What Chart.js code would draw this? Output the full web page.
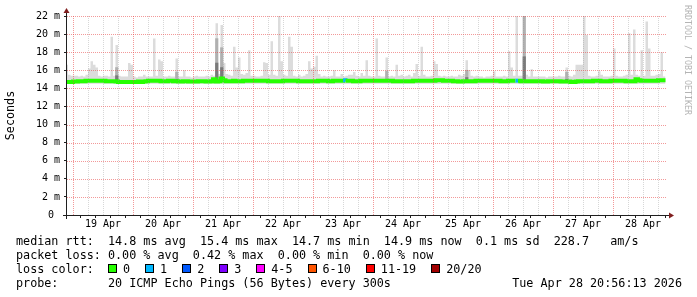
<!DOCTYPE html>
<html>
<head>
<meta charset="utf-8">
<script src="https://cdn.jsdelivr.net/npm/chart.js@4/dist/chart.umd.min.js"></script>
<style>
  html, body { margin: 0; padding: 0; background: #fff; }
  #wrap { position: relative; width: 697px; height: 297px; overflow: hidden; }
  #graph { position: absolute; left: 0; top: 0; }
  .leg { position: absolute; left: 16px; font-family: "DejaVu Sans Mono", monospace; font-size: 11.75px;
         line-height: 14px; white-space: pre; color: #000; }
  .box { display: inline-block; width: 9px; height: 9px; box-sizing: border-box; border: 1px solid #000; margin-right: 6px; }
  .lbl { margin-right: 15px; }
</style>
</head>
<body>
<div id="wrap">
  <canvas id="graph" width="697" height="297"></canvas>
  <div class="leg" style="top:234px">median rtt:  14.8 ms avg  15.4 ms max  14.7 ms min  14.9 ms now  0.1 ms sd  228.7   am/s</div>
  <div class="leg" style="top:248px">packet loss: 0.00 % avg  0.42 % max  0.00 % min  0.00 % now</div>
  <div class="leg" id="losscolor" style="top:262px">loss color:  </div>
  <div class="leg" style="top:276px">probe:       20 ICMP Echo Pings (56 Bytes) every 300s</div>
  <div class="leg" style="top:276px; left:auto; right:15px">Tue Apr 28 20:56:13 2026</div>
</div>
<script>
// x = hours since 19 Apr 00:00, one smoke step per hour
const firstHour = -3
const viewStart = -2.4
const viewEnd = 237.6

const dayLabels = ['19 Apr', '20 Apr', '21 Apr', '22 Apr', '23 Apr', '24 Apr', '25 Apr', '26 Apr', '27 Apr', '28 Apr']

// highest ping per hour (ms)
const smokeMax = [
  16.6, 15.5, 15.4,
  15.4, 15.4, 15.3, 15.4, 15.3, 15.5, 16.2, 17.0, 16.6, 16.3, 15.4, 15.3, 15.4, 15.4, 15.3, 19.7, 15.4, 18.8, 15.4, 15.3, 15.3, 15.3, 16.8, 16.6,
  15.3, 15.2, 15.3, 15.3, 15.5, 15.3, 15.3, 15.3, 19.5, 15.4, 17.2, 17.0, 15.3, 15.3, 15.4, 15.3, 15.3, 17.3, 15.3, 15.3, 16.0, 15.3, 15.3, 15.2,
  15.3, 15.4, 15.3, 15.3, 15.3, 15.4, 15.3, 15.5, 15.4, 21.2, 15.6, 21.0, 16.8, 15.6, 15.5, 15.4, 18.6, 16.3, 17.4, 15.6, 15.5, 15.7, 18.2, 15.4,
  15.4, 15.3, 15.3, 15.4, 16.9, 16.8, 15.5, 19.2, 15.5, 15.4, 22.1, 17.0, 15.5, 15.4, 19.7, 18.6, 15.4, 15.3, 15.5, 15.3, 15.4, 15.6, 17.0, 16.2,
  16.4, 17.6, 15.6, 15.3, 15.4, 15.3, 15.3, 15.4, 16.0, 15.3, 15.3, 15.6, 15.3, 15.4, 15.5, 15.5, 15.8, 15.4, 15.3, 15.7, 15.4, 17.1, 15.4, 15.3,
  15.3, 19.5, 15.4, 15.3, 15.3, 17.4, 15.3, 15.4, 15.3, 16.6, 15.4, 15.5, 15.3, 15.4, 15.5, 15.3, 15.7, 16.7, 15.4, 18.6, 15.5, 15.3, 15.3, 15.4,
  17.0, 16.7, 15.4, 15.3, 15.4, 15.3, 15.3, 15.4, 15.3, 15.3, 15.5, 15.4, 15.6, 17.1, 16.0, 15.4, 15.3, 15.4, 15.3, 15.3, 15.2, 15.3, 15.3, 15.4,
  15.9, 15.3, 15.3, 15.3, 15.4, 15.3, 18.1, 16.3, 15.4, 22.1, 15.4, 15.4, 22.1, 15.5, 15.3, 16.1, 15.3, 15.3, 15.3, 15.3, 15.3, 15.2, 15.3, 15.3,
  15.3, 15.3, 15.4, 15.3, 15.3, 16.3, 15.4, 15.3, 15.5, 16.6, 16.6, 16.6, 22.0, 19.9, 15.4, 15.3, 15.3, 15.4, 15.9, 15.5, 15.3, 15.3, 15.3, 15.4,
  18.4, 15.4, 15.3, 15.3, 15.4, 15.5, 20.1, 15.5, 20.5, 15.5, 15.4, 18.2, 15.4, 21.4, 18.4, 15.4, 15.4, 15.5, 15.6, 18.0, 15.3
]

// lowest ping per hour (ms)
const smokeMin = [
  14.5, 14.5, 14.5,
  14.5, 14.5, 14.5, 14.5, 14.5, 14.5, 14.5, 14.5, 14.5, 14.5, 14.5, 14.5, 14.5, 14.5, 14.5, 14.5, 14.5, 14.5, 14.5, 14.5, 14.5, 14.5, 14.5, 14.5,
  14.5, 14.5, 14.5, 14.5, 14.5, 14.5, 14.5, 14.5, 14.5, 14.5, 14.5, 14.5, 14.5, 14.5, 14.5, 14.5, 14.5, 14.5, 14.5, 14.5, 14.5, 14.5, 14.5, 14.5,
  14.5, 14.5, 14.5, 14.5, 14.5, 14.5, 14.5, 14.5, 14.5, 14.5, 14.5, 14.5, 14.5, 14.5, 14.5, 14.5, 14.5, 14.5, 14.5, 14.5, 14.5, 14.5, 14.5, 14.5,
  14.5, 14.5, 14.5, 14.5, 14.5, 14.5, 14.5, 14.5, 14.5, 14.5, 14.5, 14.5, 14.5, 14.5, 14.5, 14.5, 14.5, 14.5, 14.5, 14.5, 14.5, 14.5, 14.5, 14.5,
  14.5, 14.5, 14.5, 14.5, 14.5, 14.5, 14.5, 14.5, 14.5, 14.5, 14.5, 14.5, 14.5, 14.5, 14.5, 14.5, 14.5, 14.5, 14.5, 14.5, 14.5, 14.5, 14.5, 14.5,
  14.5, 14.5, 14.5, 14.5, 14.5, 14.5, 14.5, 14.5, 14.5, 14.5, 14.5, 14.5, 14.5, 14.5, 14.5, 14.5, 14.5, 14.5, 14.5, 14.5, 14.5, 14.5, 14.5, 14.5,
  14.5, 14.5, 14.5, 14.5, 14.5, 14.5, 14.5, 14.5, 14.5, 14.5, 14.5, 14.5, 14.5, 14.5, 14.5, 14.5, 14.5, 14.5, 14.5, 14.5, 14.5, 14.5, 14.5, 14.5,
  14.5, 14.5, 14.5, 14.5, 14.5, 14.5, 14.5, 14.5, 14.5, 14.5, 14.5, 14.5, 14.5, 14.5, 14.5, 14.5, 14.5, 14.5, 14.5, 14.5, 14.5, 14.5, 14.5, 14.5,
  14.5, 14.5, 14.5, 14.5, 14.5, 14.5, 14.5, 14.5, 14.5, 14.5, 14.5, 14.5, 14.5, 14.5, 14.5, 14.5, 14.5, 14.5, 14.5, 14.5, 14.5, 14.5, 14.5, 14.5,
  14.5, 14.5, 14.5, 14.5, 14.5, 14.5, 14.5, 14.5, 14.5, 14.5, 14.5, 14.5, 14.5, 14.5, 14.5, 14.5, 14.5, 14.5, 14.5, 14.5, 14.5
]

// median rtt per hour (ms)
const medianRtt = [
  14.7, 14.7, 14.7,
  14.75, 14.75, 14.8, 14.8, 14.8, 14.85, 14.85, 14.85, 14.85, 14.85, 14.85, 14.85, 14.85, 14.8, 14.8, 14.8, 14.8, 14.75, 14.7, 14.7, 14.7, 14.7, 14.7, 14.7,
  14.7, 14.7, 14.75, 14.7, 14.75, 14.8, 14.85, 14.85, 14.85, 14.85, 14.85, 14.8, 14.8, 14.8, 14.85, 14.85, 14.8, 14.8, 14.75, 14.75, 14.8, 14.8, 14.75, 14.75,
  14.75, 14.75, 14.8, 14.8, 14.8, 14.75, 14.75, 14.8, 15.0, 14.75, 14.8, 15.1, 14.9, 14.8, 14.8, 14.8, 14.85, 14.8, 14.8, 14.8, 14.85, 14.85, 14.85, 14.85,
  14.85, 14.85, 14.85, 14.85, 14.85, 14.85, 14.8, 14.8, 14.8, 14.8, 14.8, 14.8, 14.85, 14.85, 14.85, 14.85, 14.85, 14.85, 14.8, 14.8, 14.8, 14.8, 14.8, 14.8,
  14.8, 14.8, 14.85, 14.85, 14.85, 14.85, 14.8, 14.8, 14.85, 14.85, 14.85, 14.85, 14.9, 14.85, 14.85, 14.85, 14.8, 14.8, 14.8, 14.85, 14.85, 14.85, 14.85, 14.85,
  14.85, 14.85, 14.85, 14.85, 14.85, 14.85, 14.85, 14.85, 14.8, 14.8, 14.8, 14.8, 14.8, 14.8, 14.8, 14.8, 14.85, 14.85, 14.85, 14.85, 14.85, 14.85, 14.85, 14.85,
  14.85, 14.9, 14.9, 14.9, 14.85, 14.85, 14.85, 14.85, 14.8, 14.8, 14.75, 14.75, 14.8, 14.8, 14.8, 14.8, 14.8, 14.85, 14.85, 14.85, 14.85, 14.85, 14.85, 14.85,
  14.85, 14.85, 14.85, 14.8, 14.8, 14.8, 14.85, 14.85, 14.85, 14.85, 14.85, 14.8, 14.8, 14.8, 14.8, 14.8, 14.8, 14.8, 14.8, 14.8, 14.75, 14.75, 14.8, 14.8,
  14.8, 14.8, 14.8, 14.75, 14.75, 14.75, 14.75, 14.7, 14.7, 14.75, 14.8, 14.8, 14.8, 14.8, 14.8, 14.8, 14.85, 14.85, 14.85, 14.8, 14.8, 14.8, 14.8, 14.85,
  14.85, 14.85, 14.85, 14.85, 14.85, 14.8, 14.8, 14.8, 14.8, 15.0, 14.9, 14.85, 14.85, 14.85, 14.85, 14.85, 14.85, 14.85, 14.9, 14.9, 14.9
]

// hours where the darker inner smoke stands out (upper ends, ms)
const coreHours = [17, 41, 57, 59, 125, 157, 180, 197]
const coreMid   = [16.3, 15.8, 19.5, 18.5, 15.9, 16.0, 22.1, 15.8]
const coreInner = [15.4, 15.0, 16.8, 16.3, 15.0, 15.2, 17.5, 15.0]

// packet loss
const lossLabels = ['0', '1', '2', '3', '4-5', '6-10', '11-19', '20/20']
const lossColors = ['#26ff00', '#00b8ff', '#0059ff', '#7e00ff', '#ff00ff', '#ff5500', '#ff0000', '#a10000']
const lossHours = [108, 177]
const lossClass = [1, 1]

const monoFont = '"DejaVu Sans Mono", monospace'
const majorGrid = 'rgba(232, 70, 70, 0.55)'
const minorGrid = 'rgba(150, 150, 150, 0.38)'

// stepped series: value i holds from hour i to hour i+1
function steps(values) {
  const pts = values.map((v, i) => ({x: firstHour + i, y: v}))
  pts.push({x: firstHour + values.length, y: values[values.length - 1]})
  return pts
}

function cores(tops) {
  return coreHours.map((h, k) => ({x: h + 0.5, y: [medianRtt[h - firstHour], tops[k]]}))
}

function lossColorAt(i) {
  const k = lossHours.indexOf(firstHour + i)
  return k < 0 ? lossColors[0] : lossColors[lossClass[k]]
}

const gridHours = []
for (let h = 0; h <= viewEnd; h += 6) gridHours.push(h)

// legend swatches
const lc = document.getElementById('losscolor')
lossLabels.forEach((name, i) => {
  const b = document.createElement('span')
  b.className = 'box'
  b.style.background = lossColors[i]
  lc.appendChild(b)
  const t = document.createElement('span')
  t.className = 'lbl'
  t.textContent = name
  lc.appendChild(t)
})

// dotted rrdtool grid, laid over the smoke (minor first, major on top)
const rrdGrid = {
  id: 'rrdGrid',
  afterDatasetsDraw(chart) {
    const {ctx, chartArea: a, scales: {x, y}} = chart
    ctx.save()
    ctx.lineWidth = 1
    ctx.setLineDash([1, 1])
    const line = (x1, y1, x2, y2, color) => {
      ctx.strokeStyle = color
      ctx.beginPath()
      ctx.moveTo(x1, y1)
      ctx.lineTo(x2, y2)
      ctx.stroke()
    }
    const vert = major => gridHours.filter(h => (h % 24 === 0) === major).forEach(h => {
      const px = Math.round(x.getPixelForValue(h)) + 0.5
      line(px, a.bottom, px, a.top, major ? majorGrid : minorGrid)
    })
    const horiz = major => y.ticks.filter(t => t.value > 0 && (t.value % 2 === 0) === major).forEach(t => {
      const py = Math.round(y.getPixelForValue(t.value)) + 0.5
      line(a.left, py, a.right, py, major ? majorGrid : minorGrid)
    })
    vert(false)
    horiz(false)
    vert(true)
    horiz(true)
    ctx.restore()
  }
}

const rrdAxes = {
  id: 'rrdAxes',
  afterDraw(chart) {
    const {ctx, chartArea: a} = chart
    ctx.save()
    ctx.strokeStyle = '#1f1f1f'
    ctx.lineWidth = 1
    ctx.beginPath()
    ctx.moveTo(a.left - 4, a.bottom + 0.5)
    ctx.lineTo(a.right + 2, a.bottom + 0.5)
    ctx.moveTo(a.left - 0.5, a.bottom + 4)
    ctx.lineTo(a.left - 0.5, a.top - 3)
    ctx.stroke()

    ctx.fillStyle = '#801f1f'
    ctx.beginPath()
    ctx.moveTo(a.left - 0.5, a.top - 8)
    ctx.lineTo(a.left - 3.5, a.top - 3)
    ctx.lineTo(a.left + 2.5, a.top - 3)
    ctx.closePath()
    ctx.fill()
    ctx.beginPath()
    ctx.moveTo(a.right + 7, a.bottom + 0.5)
    ctx.lineTo(a.right + 2, a.bottom - 2.5)
    ctx.lineTo(a.right + 2, a.bottom + 3.5)
    ctx.closePath()
    ctx.fill()

    // watermark
    ctx.translate(685, 5)
    ctx.rotate(Math.PI / 2)
    ctx.font = '8.3px ' + monoFont
    ctx.fillStyle = '#b4b4b4'
    ctx.textBaseline = 'alphabetic'
    ctx.fillText('RRDTOOL / TOBI OETIKER', 0, 0)
    ctx.restore()
  }
}

new Chart(document.getElementById('graph'), {
  type: 'line',
  data: {
    datasets: [
      {
        label: 'median rtt',
        data: steps(medianRtt),
        stepped: true,
        borderColor: lossColors[0],
        borderWidth: 4,
        borderCapStyle: 'butt',
        pointRadius: 0,
        fill: false,
        order: 0,
        segment: {borderColor: ctx => lossColorAt(ctx.p0DataIndex)}
      },
      {
        label: 'smoke',
        data: steps(smokeMax),
        stepped: true,
        borderWidth: 0,
        borderColor: 'rgba(0,0,0,0)',
        backgroundColor: '#dcdcdc',
        pointRadius: 0,
        fill: 4,
        order: 3
      },
      {
        type: 'bar',
        label: 'smoke mid',
        data: cores(coreMid),
        backgroundColor: '#b0b0b0',
        barThickness: 2.5,
        grouped: false,
        order: 2
      },
      {
        type: 'bar',
        label: 'smoke core',
        data: cores(coreInner),
        backgroundColor: '#7a7a7a',
        barThickness: 2.5,
        grouped: false,
        order: 1
      },
      {
        label: 'smoke low',
        data: steps(smokeMin),
        stepped: true,
        borderWidth: 0,
        borderColor: 'rgba(0,0,0,0)',
        pointRadius: 0,
        fill: false,
        order: 4
      }
    ]
  },
  options: {
    responsive: false,
    animation: false,
    events: [],
    layout: {padding: {left: 0, top: 16, right: 30, bottom: 62}},
    plugins: {legend: {display: false}, tooltip: {enabled: false}},
    scales: {
      x: {
        type: 'linear',
        min: viewStart,
        max: viewEnd,
        offset: false,
        afterBuildTicks: s => { s.ticks = gridHours.map(v => ({value: v})) },
        afterFit: s => { s.height = 20 },
        ticks: {
          autoSkip: false, maxRotation: 0, minRotation: 0, padding: 0,
          color: '#000', font: {family: monoFont, size: 10},
          callback: v => (v % 24 === 12 ? dayLabels[(v - 12) / 24] : '')
        },
        grid: {drawOnChartArea: false, tickLength: 3, tickColor: '#1f1f1f'},
        border: {display: false}
      },
      y: {
        min: 0,
        max: 22,
        afterFit: s => { s.width = 67 },
        ticks: {
          stepSize: 1, padding: 4, color: '#000', font: {family: monoFont, size: 10},
          callback: v => (v === 0 ? '0 ' : (v % 2 === 0 ? v + ' m' : ''))
        },
        grid: {drawOnChartArea: false, tickLength: 3, tickColor: '#1f1f1f'},
        border: {display: false},
        title: {
          display: true, text: 'Seconds', color: '#000',
          font: {family: monoFont, size: 11.75}, padding: {top: 3.5, bottom: 0}
        }
      }
    }
  },
  plugins: [rrdGrid, rrdAxes]
})
</script>
</body>
</html>
